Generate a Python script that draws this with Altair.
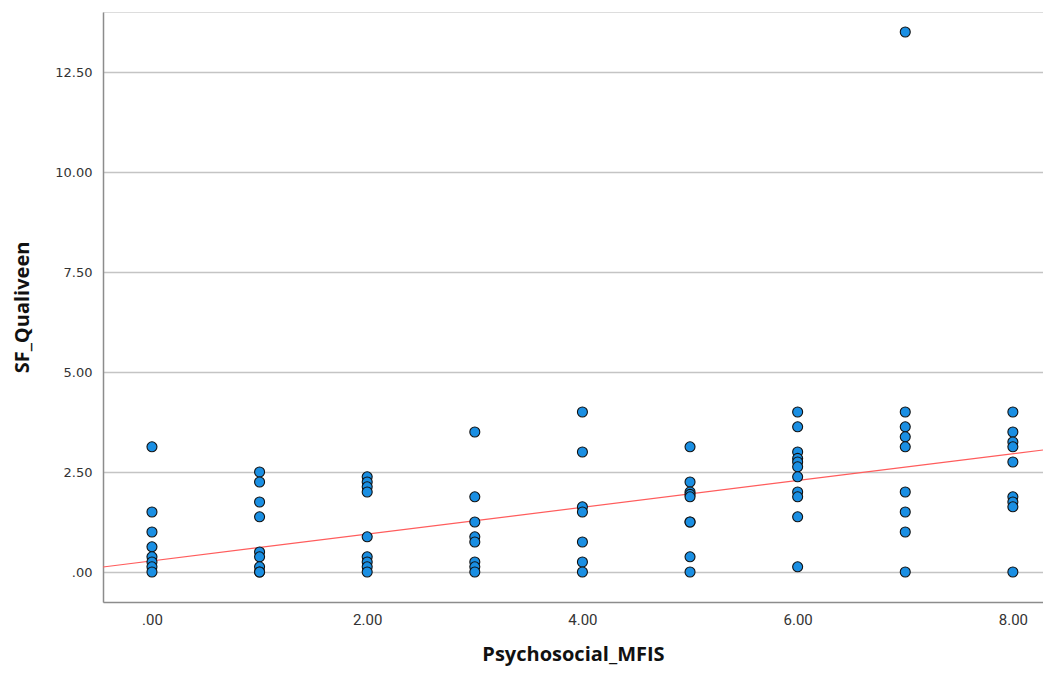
import altair as alt
import pandas as pd

# Psychosocial_MFIS (x) and SF_Qualiveen (y)
x_vals = (
    [0] * 8 + [1] * 9 + [2] * 9 + [3] * 8 + [4] * 7 + [5] * 9 + [6] * 11 + [7] * 9 + [8] * 9
)
y_vals = (
    [3.13, 1.50, 1.00, 0.63, 0.38, 0.25, 0.13, 0.00]
    + [2.50, 2.25, 1.75, 1.38, 0.50, 0.38, 0.13, 0.00, 0.00]
    + [2.38, 2.25, 2.13, 2.00, 0.88, 0.38, 0.25, 0.13, 0.00]
    + [3.50, 1.88, 1.25, 0.88, 0.75, 0.25, 0.13, 0.00]
    + [4.00, 3.00, 1.63, 1.50, 0.75, 0.25, 0.00]
    + [3.13, 2.25, 2.00, 1.94, 1.88, 1.25, 1.25, 0.38, 0.00]
    + [4.00, 3.63, 3.00, 2.84, 2.75, 2.63, 2.38, 2.00, 1.88, 1.38, 0.13]
    + [13.50, 4.00, 3.63, 3.38, 3.13, 2.00, 1.50, 1.00, 0.00]
    + [4.00, 3.50, 3.25, 3.13, 2.75, 1.88, 1.75, 1.63, 0.00]
)

# fit line (linear regression drawn in the reference), endpoints
fit_x = [-0.455, 8.28]
fit_y = [0.125, 3.05]

x_ticks = [0, 2, 4, 6, 8]
y_ticks = [0, 2.5, 5, 7.5, 10, 12.5]
x_domain = [-0.455, 8.28]
y_domain = [-0.75, 14.0]

df = pd.DataFrame({"Psychosocial_MFIS": x_vals, "SF_Qualiveen": y_vals})
fit_df = pd.DataFrame({"Psychosocial_MFIS": fit_x, "SF_Qualiveen": fit_y})

label_expr = "datum.value == 0 ? '.00' : format(datum.value, '.2f')"
title_font = "Open Sans"

x_enc = alt.X(
    "Psychosocial_MFIS:Q",
    scale=alt.Scale(domain=x_domain, nice=False, zero=False),
    axis=alt.Axis(
        values=x_ticks,
        labelExpr=label_expr,
        grid=False,
        ticks=False,
        domainColor="#8c8c8c",
        domainWidth=1.5,
        labelFont="Roboto",
        labelFontSize=15,
        labelColor="#333333",
        labelPadding=10,
        title="Psychosocial_MFIS",
        titleFont=title_font,
        titleFontSize=20,
        titleFontWeight="bold",
        titleColor="#111111",
        titlePadding=17,
    ),
)
y_enc = alt.Y(
    "SF_Qualiveen:Q",
    scale=alt.Scale(domain=y_domain, nice=False, zero=False),
    axis=alt.Axis(
        values=y_ticks,
        labelExpr=label_expr,
        grid=True,
        gridColor="#c4c4c4",
        gridWidth=1.5,
        ticks=False,
        domainColor="#8c8c8c",
        domainWidth=1.5,
        labelFont="DejaVu Sans",
        labelFontSize=13,
        labelColor="#333333",
        labelPadding=11,
        title="SF_Qualiveen",
        titleFont=title_font,
        titleFontSize=20,
        titleFontWeight="bold",
        titleColor="#111111",
        titlePadding=22,
    ),
)

points = alt.Chart(df).mark_point(
    filled=True, shape="circle", size=100, fill="#1a8fe3", stroke="#111111", strokeWidth=1.1, opacity=1
).encode(x=x_enc, y=y_enc)

fit = alt.Chart(fit_df).mark_line(color="#ff5c5c", strokeWidth=1.2, clip=True).encode(
    x=alt.X("Psychosocial_MFIS:Q"), y=alt.Y("SF_Qualiveen:Q")
)

chart = (
    alt.layer(fit, points)
    .properties(
        width=940,
        height=590,
        autosize=alt.AutoSizeParams(type="none"),
        padding={"left": 95, "top": 4, "right": 0, "bottom": 65},
    )
    .configure_view(stroke=None)
    .configure(background="white")
)

chart.save("out.html", embed_options={"renderer": "svg", "actions": False})
